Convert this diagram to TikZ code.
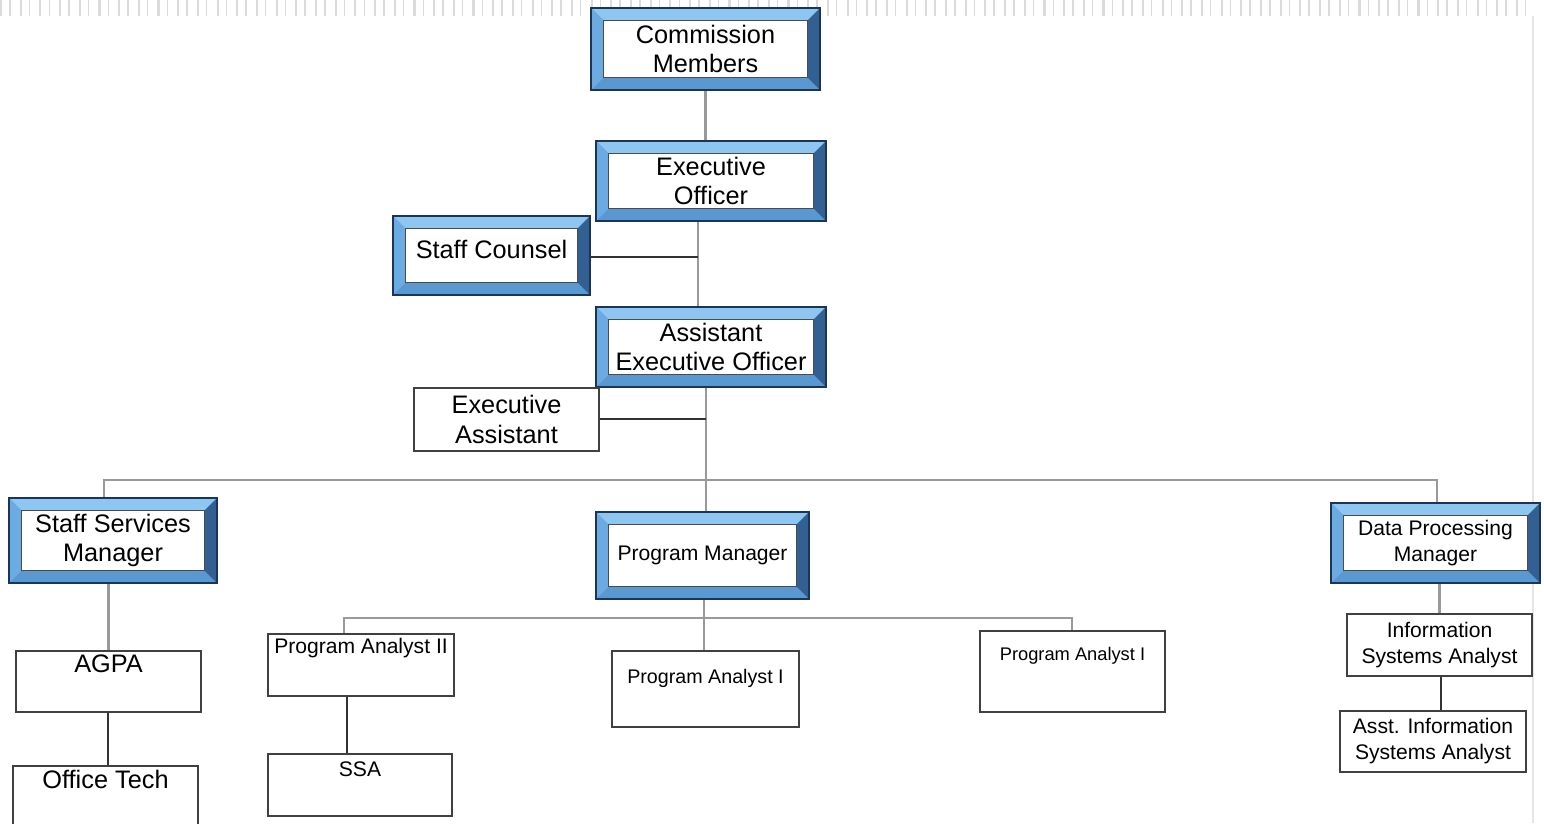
\documentclass[tikz,border=0pt]{standalone}
\usepackage{fontspec}
\setmainfont{Liberation Sans}
\usepackage{tikz}
\definecolor{bevelline}{RGB}{28,52,88}
\definecolor{beveltop}{RGB}{142,198,242}
\definecolor{bevelleft}{RGB}{108,170,226}
\definecolor{bevelbottom}{RGB}{90,152,210}
\definecolor{bevelright}{RGB}{50,96,146}
\newcommand{\bevelw}{0.32cm}

\begin{document}
\begin{tikzpicture}[x=0.025cm,y=-0.025cm,
    wh/.style 2 args={minimum width=#1*0.025cm, minimum height=#2*0.025cm},
    big/.style={font=\fontsize{18}{21}\selectfont},
    small/.style={font=\fontsize{15}{18.5}\selectfont},
    bluebox/.style={rectangle, align=center, big, draw=bevelline, line width=0.8pt,
        fill=bevelbottom, path picture={
        \path (path picture bounding box.north west) coordinate (bnw)
              (path picture bounding box.south east) coordinate (bse)
              ([shift={(\bevelw,-\bevelw)}]bnw) coordinate (inw)
              ([shift={(-\bevelw,\bevelw)}]bse) coordinate (ise);
        \fill[beveltop] (bnw) -- (bnw -| bse) -- (inw -| ise) -- (inw) -- cycle;
        \fill[bevelleft] (bnw) -- (inw) -- (inw |- ise) -- (bnw |- bse) -- cycle;
        \fill[bevelright] (bnw -| bse) -- (bse) -- (ise) -- (inw -| ise) -- cycle;
        \filldraw[fill=white, draw=black!70, line width=0.8pt] (inw) rectangle (ise);
    }},
    plainbox/.style={rectangle, align=center, big, draw=black!75, line width=1.2pt, fill=white},
    graylink/.style={draw=black!40, line width=2pt},
    darklink/.style={draw=black!80, line width=1.6pt}
]
\useasboundingbox (0,0) rectangle (1544,823);
\draw[black!14, line width=11pt, dash pattern=on 1.5pt off 5pt on 1pt off 6.5pt] (0,8) -- (1532,8);
\draw[black!10, line width=1pt] (1533,16) -- (1533,823);

\node[bluebox, wh={229}{82}] (cm) at (705.5,49) {Commission\\Members};
\node[bluebox, wh={230}{80}] (eo) at (711,181) {Executive\\Officer};
\node[bluebox, wh={197}{79}, text depth=9pt] (sc) at (491.5,255.5) {Staff Counsel};
\node[bluebox, wh={230}{80}] (aeo) at (711,347) {Assistant\\Executive Officer};
\node[plainbox, wh={185}{63}] (ea) at (506.5,419.5) {Executive\\Assistant};
\node[bluebox, wh={208}{85}] (ssm) at (113,540.5) {Staff Services\\Manager};
\node[bluebox, small, wh={213}{87}] (pm) at (702.5,555.5) {Program Manager};
\node[bluebox, small, wh={209}{80}] (dpm) at (1435.5,543) {Data Processing\\Manager};

\node[plainbox, wh={185}{61}, label={[big, anchor=north]north:AGPA}] (agpa) at (108.5,681.5) {};
\node[plainbox, wh={185}{61}, label={[big, anchor=north]north:Office Tech}] (ot) at (105.5,796.5) {};
\node[plainbox, wh={186}{62}, label={[small, anchor=north]north:Program Analyst II}] (pa2) at (361,665) {};
\node[plainbox, wh={184}{62}, label={[small, anchor=north, label distance=-2.5pt]north:SSA}] (ssa) at (360,785) {};
\node[plainbox, wh={187}{76}, label={[font=\fontsize{14}{17}\selectfont, anchor=north, label distance=-10pt]north:Program Analyst I}] (pa1) at (705.5,689) {};
\node[plainbox, wh={185}{81}, label={[font=\fontsize{13}{16}\selectfont, anchor=north, label distance=-8.5pt]north:Program Analyst I}] (pa1b) at (1072.5,671.5) {};
\node[plainbox, small, wh={185}{62}] (isa) at (1439.5,645) {Information\\Systems Analyst};
\node[plainbox, small, wh={186}{61}] (aisa) at (1433,741.5) {Asst. Information\\Systems Analyst};

\coordinate (scj) at (698,257);
\coordinate (eaj) at (706,419);
\coordinate (bus) at (706,480);
\coordinate (busl) at (104,480);
\coordinate (busr) at (1437,480);
\coordinate (agj) at (108,740);
\coordinate (pmj) at (704,618);
\coordinate (pml) at (344,618);
\coordinate (pmr) at (1072,618);
\coordinate (ssaj) at (347,725);
\coordinate (isj) at (1441,694);

\draw[graylink] (cm.south) -- (cm.south |- eo.north);
\draw[graylink] (eo.south -| scj) -- (aeo.north -| scj);
\draw[darklink] (sc.east |- scj) -- (scj);
\draw[graylink] (aeo.south -| bus) -- (bus) -- (pm.north -| bus);
\draw[darklink] (ea.east |- eaj) -- (eaj);
\draw[graylink] (ssm.north -| busl) -- (busl) -- (busr) -- (dpm.north -| busr);
\draw[graylink] (agpa.north |- ssm.south) -- (agpa.north);
\draw[darklink] (agpa.south -| agj) -- (ot.north -| agj);
\draw[graylink] (pm.south -| pmj) -- (pmj) -- (pa1.north -| pmj);
\draw[graylink] (pa2.north -| pml) -- (pml) -- (pmr) -- (pa1b.north -| pmr);
\draw[darklink] (pa2.south -| ssaj) -- (ssa.north -| ssaj);
\draw[graylink] (isa.north |- dpm.south) -- (isa.north);
\draw[darklink] (isa.south -| isj) -- (aisa.north -| isj);
\end{tikzpicture}
\end{document}
